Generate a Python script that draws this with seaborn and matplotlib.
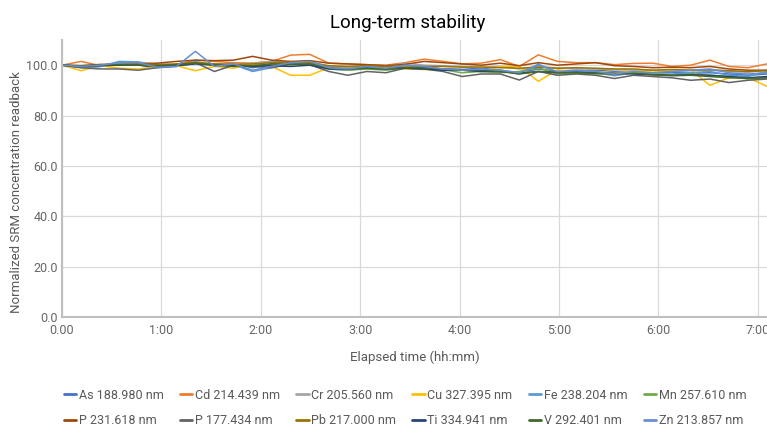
import numpy as np
import pandas as pd
import matplotlib
matplotlib.use("Agg")
import matplotlib.pyplot as plt
import seaborn as sns

# elapsed time in minutes
elapsed_min = [0, 11.5, 23, 34.5, 46, 57.5, 69, 80.5, 92, 103.5, 115, 126.5, 138, 149.5,
               161, 172.5, 184, 195.5, 207, 218.5, 230, 241.5, 253, 264.5, 276, 287.5,
               299, 310.5, 322, 333.5, 345, 356.5, 368, 379.5, 391, 402.5, 414, 425.5]

series_names = ["As 188.980 nm", "Cd 214.439 nm", "Cr 205.560 nm", "Cu 327.395 nm",
                "Fe 238.204 nm", "Mn 257.610 nm", "P 231.618 nm", "P 177.434 nm",
                "Pb 217.000 nm", "Ti 334.941 nm", "V 292.401 nm", "Zn 213.857 nm"]

As = [100, 99.2, 99.5, 100.3, 100.1, 99.0, 99.5, 100.8, 100.2, 100.5, 99.0, 100.5, 100.8, 101.0, 99.0, 98.5, 99.0, 98.8, 99.2,
      99.0, 98.5, 98.3, 98.8, 98.0, 97.0, 98.5, 97.5, 97.8, 98.0, 97.5, 97.3, 97.0, 97.2, 96.8, 97.0, 96.5, 96.0, 96.5]
Cd = [100, 101.5, 99.8, 100.2, 100.5, 100.0, 100.3, 102.0, 101.5, 101.0, 100.8, 101.5, 104.0, 104.3, 100.8, 100.5, 100.2, 100.0, 101.0,
      102.4, 101.5, 100.5, 100.8, 102.2, 99.5, 104.1, 101.5, 101.0, 101.0, 100.2, 100.7, 100.8, 99.5, 100.0, 102.0, 99.5, 99.0, 100.5]
Cr = [100, 99.5, 100.2, 100.8, 101.2, 100.5, 100.2, 101.0, 100.5, 100.2, 100.8, 101.5, 101.0, 101.5, 99.5, 99.0, 99.8, 99.5, 100.8,
      100.0, 99.8, 99.5, 99.0, 99.5, 98.5, 99.5, 98.8, 98.5, 98.5, 98.2, 98.0, 98.0, 97.5, 97.8, 98.0, 97.5, 97.2, 98.0]
Cu = [100, 97.8, 99.8, 98.8, 98.5, 99.5, 99.8, 97.8, 99.5, 98.8, 100.5, 99.5, 96.0, 96.0, 99.0, 98.5, 98.5, 99.0, 98.5,
      98.3, 98.0, 98.0, 97.5, 99.5, 99.5, 93.6, 98.2, 97.0, 97.5, 97.0, 97.5, 97.8, 98.0, 98.2, 92.0, 95.0, 95.0, 91.6]
Fe = [100, 99.0, 99.5, 101.5, 101.3, 99.5, 99.8, 101.5, 100.0, 100.2, 97.5, 99.0, 100.5, 101.2, 98.5, 98.0, 99.0, 98.8, 100.0,
      99.0, 98.0, 98.2, 97.5, 98.0, 96.5, 100.5, 97.0, 97.5, 97.0, 95.8, 97.0, 96.5, 96.5, 97.0, 97.5, 96.0, 95.5, 97.5]
Mn = [100, 99.5, 100.0, 100.5, 100.8, 100.0, 100.0, 101.0, 100.5, 99.8, 99.5, 100.2, 100.5, 100.8, 98.5, 98.0, 98.5, 98.0, 98.8,
      98.5, 98.2, 97.0, 97.5, 97.0, 97.5, 99.0, 96.5, 96.8, 96.5, 96.5, 97.0, 96.8, 96.0, 96.5, 96.0, 95.5, 94.5, 95.0]
P231 = [100, 99.8, 100.3, 100.2, 100.5, 100.8, 101.5, 102.0, 101.8, 102.0, 103.5, 102.0, 101.5, 101.8, 100.8, 100.5, 100.2, 99.8, 100.3,
        101.5, 101.0, 100.5, 100.0, 100.8, 99.8, 101.0, 100.0, 100.5, 101.0, 99.8, 99.5, 99.0, 99.2, 99.0, 99.5, 98.5, 98.0, 98.0]
P177 = [100, 99.0, 98.5, 98.5, 98.0, 99.0, 100.0, 101.0, 97.5, 100.0, 99.5, 99.0, 100.5, 100.2, 97.5, 96.0, 97.5, 97.0, 98.8,
        98.5, 97.5, 95.5, 96.5, 96.5, 94.1, 97.5, 96.0, 96.5, 96.0, 94.7, 96.0, 95.5, 95.0, 94.0, 94.5, 93.1, 94.0, 94.5]
Pb = [100, 99.5, 100.0, 100.2, 100.5, 100.2, 100.5, 101.0, 100.5, 100.3, 100.5, 101.0, 101.2, 101.0, 99.8, 99.5, 99.8, 99.5, 99.8,
      99.5, 99.5, 99.2, 99.3, 99.0, 98.8, 99.2, 98.8, 99.0, 98.8, 98.5, 98.5, 98.0, 98.3, 98.0, 98.2, 97.8, 97.5, 97.8]
Ti = [100, 99.5, 99.8, 100.0, 100.0, 99.5, 99.8, 100.5, 100.0, 99.8, 99.5, 99.8, 99.5, 100.0, 98.5, 98.5, 98.8, 98.5, 98.8,
      98.5, 98.0, 98.0, 97.5, 97.5, 96.8, 97.5, 97.0, 97.2, 97.0, 96.8, 96.5, 96.2, 96.0, 96.2, 96.0, 95.5, 95.0, 95.5]
V = [100, 99.8, 100.0, 100.2, 100.0, 99.8, 100.2, 100.8, 100.0, 99.5, 99.8, 100.5, 100.2, 100.5, 99.0, 98.5, 98.8, 98.5, 99.0,
     99.0, 98.5, 98.2, 98.0, 97.5, 96.5, 97.5, 97.2, 97.0, 96.8, 96.5, 96.8, 96.2, 95.8, 96.0, 95.5, 95.0, 94.8, 95.0]
Zn = [100, 99.5, 100.0, 101.0, 101.0, 99.2, 99.5, 105.5, 99.5, 100.5, 98.0, 99.5, 101.0, 101.5, 99.0, 98.5, 99.5, 98.8, 100.0,
      99.5, 98.5, 98.0, 98.5, 98.0, 97.0, 100.0, 97.5, 98.0, 97.5, 96.5, 97.5, 97.0, 97.5, 98.0, 98.5, 97.0, 96.5, 97.0]

series_values = [As, Cd, Cr, Cu, Fe, Mn, P231, P177, Pb, Ti, V, Zn]
colors = ["#4472c4", "#ed7d31", "#a5a5a5", "#ffc000", "#5b9bd5", "#70ad47",
          "#9e480e", "#636363", "#997300", "#264478", "#43682b", "#698ed0"]

y_ticks = [0, 20, 40, 60, 80, 100]
y_tick_labels = ["0.0", "20.0", "40.0", "60.0", "80.0", "100.0"]
x_ticks_h = [0, 1, 2, 3, 4, 5, 6, 7]
x_tick_labels = ["0.00", "1:00", "2:00", "3:00", "4:00", "5:00", "6:00", "7:00"]

rows = []
for name, vals in zip(series_names, series_values):
    for t, v in zip(elapsed_min, vals):
        rows.append({"hours": t / 60.0, "value": v, "series": name})
df = pd.DataFrame(rows)

sns.set_theme(style="white")
plt.rcParams["font.family"] = ["Roboto", "DejaVu Sans"]

fig = plt.figure(figsize=(7.67, 4.30), dpi=100)
ax = fig.add_axes([62 / 767, 113 / 430, 705 / 767, 277 / 430])

sns.lineplot(data=df, x="hours", y="value", hue="series", hue_order=series_names,
             palette=colors, estimator=None, sort=False, linewidth=1.1, ax=ax, legend=False)

ax.set_xlim(0, 425.5 / 60)
ax.set_ylim(0, 110)
ax.set_yticks(y_ticks)
ax.set_yticklabels(y_tick_labels)
ax.set_xticks(x_ticks_h)
ax.set_xticklabels(x_tick_labels)
ax.tick_params(axis="y", labelsize=9, colors="#666666", length=0, pad=3)
ax.tick_params(axis="x", labelsize=9, colors="#666666", length=0, pad=5)
ax.grid(True, color="#d9d9d9", linewidth=0.9)
ax.set_axisbelow(True)
for s in ["top", "right"]:
    ax.spines[s].set_visible(False)
for s in ["left", "bottom"]:
    ax.spines[s].set_color("#bfbfbf")
    ax.spines[s].set_linewidth(1.5)

ax.set_xlabel("Elapsed time (hh:mm)", fontsize=9.5, color="#595959", labelpad=10)
ax.set_ylabel("Normalized SRM concentration readback", fontsize=9.5, color="#595959")
ax.yaxis.set_label_coords(-0.056, 0.45)
ax.set_title("Long-term stability", fontsize=13.5, color="#000000", pad=9)
ax.title.set_position((0.49, 1.0))

from matplotlib.lines import Line2D
handles = [Line2D([0], [0], color=c, lw=2) for c in colors]
order = []
for col in range(6):
    order += [col, col + 6]
leg = fig.legend([handles[i] for i in order], [series_names[i] for i in order],
                 loc="center", bbox_to_anchor=(405 / 767, 1 - 408 / 430), ncol=6,
                 frameon=False, fontsize=9, handlelength=1.0, handletextpad=0.2,
                 columnspacing=1.3, labelspacing=1.0, labelcolor="#595959")

fig.savefig("out.png", dpi=100)
